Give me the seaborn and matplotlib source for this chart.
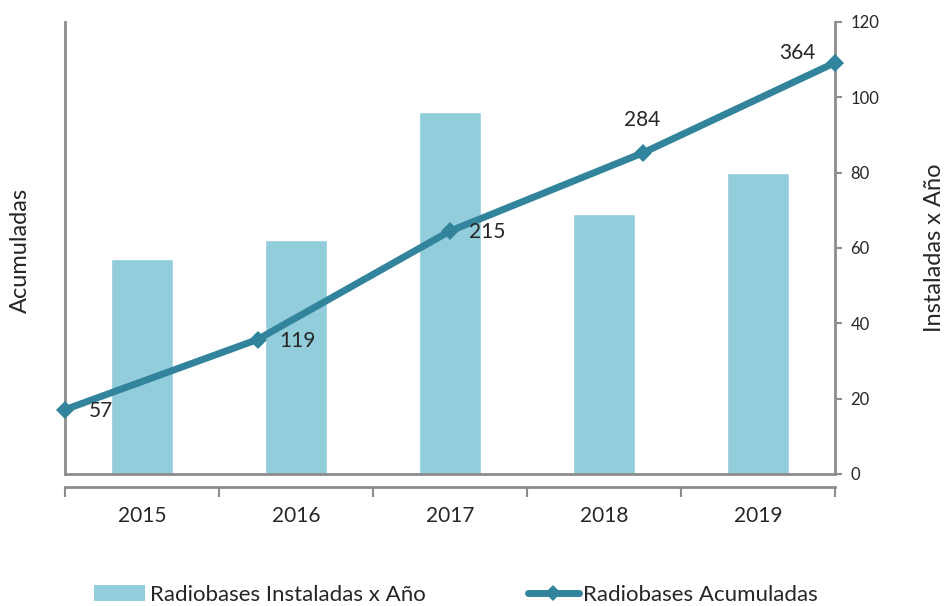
import numpy as np
import pandas as pd
import seaborn as sns
import matplotlib.pyplot as plt
from matplotlib.lines import Line2D
from matplotlib.patches import Patch

years = ["2015", "2016", "2017", "2018", "2019"]
installed = [57, 62, 96, 69, 80]
cumulative = [57, 119, 215, 284, 364]

bar_color = "#92CDDC"
line_color = "#31849B"
axis_gray = "#8C8C8C"

sns.set_theme(style="white")
plt.rcParams["font.family"] = ["Lato", "DejaVu Sans"]

fig = plt.figure(figsize=(9.44, 6.06), dpi=100)
rect = [65 / 944, 1 - 474 / 606, (835 - 65) / 944, (474 - 22) / 606]
ax = fig.add_axes(rect)

df = pd.DataFrame({"year": years, "installed": installed})
sns.barplot(data=df, x="year", y="installed", color=bar_color, width=0.4,
            saturation=1, ax=ax)
ax.set_xlim(-0.5, 4.5)
ax.set_ylim(0, 120)

# right-hand axis for the bars
ax.yaxis.tick_right()
ax.yaxis.set_label_position("right")
ax.set_yticks(np.arange(0, 121, 20))
ax.tick_params(axis="y", which="major", direction="out", length=5, width=1.5,
               color=axis_gray, labelsize=12, pad=6, right=True, left=False)
ax.set_ylabel("Instaladas x Año", fontsize=17, labelpad=32)

# category axis, drawn a bit below the plot area
ax.set_xticks(np.arange(-0.5, 5, 1))
ax.set_xticklabels([])
ax.set_xticks(np.arange(5), minor=True)
ax.set_xticklabels(years, minor=True)
ax.tick_params(axis="x", which="major", direction="out", length=7, width=1.5,
               color=axis_gray, bottom=True)
ax.tick_params(axis="x", which="minor", length=0, pad=14, labelsize=15)
ax.set_xlabel("")
ax.spines["bottom"].set_position(("outward", 9))
ax.axhline(0, color=axis_gray, lw=2, clip_on=False, zorder=3)
ax.spines["top"].set_visible(False)
for s in ["left", "right", "bottom"]:
    ax.spines[s].set_color(axis_gray)
    ax.spines[s].set_linewidth(2)

fig.text(20 / 944, 1 - 250 / 606, "Acumuladas", rotation=90, fontsize=17,
         ha="center", va="center")

# cumulative line on its own axes spanning the full width
ax_line = fig.add_axes(rect, frameon=False)
ldf = pd.DataFrame({"x": np.arange(5), "cum": cumulative})
sns.lineplot(data=ldf, x="x", y="cum", color=line_color, lw=5, marker="D",
             markersize=9, markeredgewidth=0, ax=ax_line, clip_on=False)
ax_line.set_xlim(0, 4)
ax_line.set_ylim(0, 400)
ax_line.axis("off")

offsets = [(17, -1), (16, -1), (14, -1), (0, 24), (-14, 7)]
aligns = ["left", "left", "left", "center", "right"]
for i, v in enumerate(cumulative):
    ax_line.annotate(str(v), (i, v), xytext=offsets[i], textcoords="offset points",
                     fontsize=15, color="#262626", ha=aligns[i], va="center")

handles = [Patch(facecolor=bar_color, edgecolor="none"),
           Line2D([0], [0], color=line_color, lw=5, marker="D", markersize=8,
                  markeredgewidth=0)]
fig.legend(handles, ["Radiobases Instaladas x Año", "Radiobases Acumuladas"],
           loc="center", bbox_to_anchor=(456 / 944, 1 - 595 / 606), ncol=2,
           frameon=False, fontsize=16, columnspacing=4.6, handlelength=2.3,
           handletextpad=0.2)

fig.savefig("out.png", dpi=100)
